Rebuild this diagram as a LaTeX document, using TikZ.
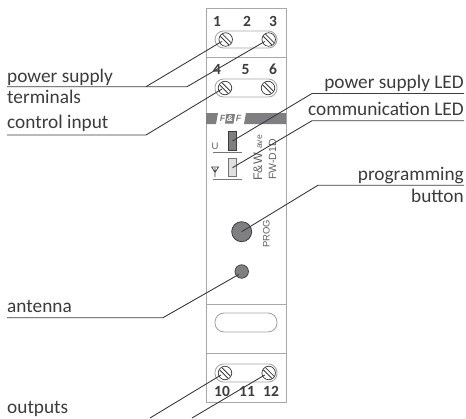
\documentclass[tikz,border=0pt]{standalone}
\usepackage{fontspec}
\setmainfont{Carlito}
\newfontfamily\lightsans{Liberation Sans}
\usetikzlibrary{calc}
\definecolor{ink}{HTML}{3C3C3E}
\definecolor{edge}{HTML}{A8A8A8}
\definecolor{band}{HTML}{7F7F82}
\tikzset{
  x=1pt,y=-1pt,
  lbl/.style={font=\fontsize{19.3}{19.3}\selectfont,text=ink,inner sep=0pt},
  num/.style={font=\bfseries\fontsize{15.5}{15.5}\selectfont,text=ink,inner sep=0pt},
  lead/.style={draw=ink,line width=0.9pt},
  part/.style={draw=edge,line width=0.9pt},
  screwhead/.style={circle,draw=ink,fill=white,line width=0.7pt,minimum size=13.5pt,inner sep=0pt},
  devtxt/.style={text=ink!80,inner sep=0pt,rotate=90,anchor=base west},
  rule/.style={draw=ink!70,line width=0.8pt},
}
\newcommand{\slotmark}[1]{\draw[ink,line width=0.8pt] ($(#1)+(-5.4,-3.2)$) -- ($(#1)+(3.2,5.4)$) ($(#1)+(-3.2,-5.4)$) -- ($(#1)+(5.4,3.2)$);}
\begin{document}
\begin{tikzpicture}
\useasboundingbox (0,0) rectangle (466,418);
\fill[white] (0,0) rectangle (466,418);
% body
\draw[part] (206,8) rectangle (286,402);
\draw[part] (206,57) -- (286,57) (206,304) -- (286,304) (206,353) -- (286,353);
\draw[part,rounded corners=8.5pt] (215,31) rectangle (277,48);
\draw[part,rounded corners=8.5pt] (215,79) rectangle (277,97);
\draw[part,rounded corners=8.5pt] (215,364) rectangle (277,382);
\draw[part,rounded corners=9pt,fill=white] (215,313) rectangle (277,332);
% band
\fill[band] (206,113) -- (218,113) -- (216,124) -- (206,124) -- cycle;
\fill[band] (246,113) -- (286,113) -- (286,124) -- (244,124) -- cycle;
\fill[band] (226.5,114) -- (235,114) -- (233.5,123.5) -- (225,123.5) -- cycle;
\node[font=\bfseries\itshape\lightsans\fontsize{9}{9}\selectfont,text=band,inner sep=0pt] (logoa) at (222.5,118.8) {F};
\node[font=\bfseries\itshape\lightsans\fontsize{8.5}{8.5}\selectfont,text=white,inner sep=0pt] (logob) at (230,118.8) {\&};
\node[font=\bfseries\itshape\lightsans\fontsize{9}{9}\selectfont,text=band,inner sep=0pt] (logoc) at (238.5,118.8) {F};
% screws
\node[screwhead] (s1) at (225.7,39.5) {}; \slotmark{s1}
\node[screwhead] (s3) at (268.7,39.5) {}; \slotmark{s3}
\node[screwhead] (s4) at (225,88) {}; \slotmark{s4}
\node[screwhead] (s6) at (268,88) {}; \slotmark{s6}
\node[screwhead] (s10) at (225,373) {}; \slotmark{s10}
\node[screwhead] (s12) at (268.7,373) {}; \slotmark{s12}
% numbers
\node[num] (n1) at (217,21.5) {1};
\node[num] (n2) at (247,21.5) {2};
\node[num] (n3) at (273,21.5) {3};
\node[num] (n4) at (217,69.5) {4};
\node[num] (n5) at (245.5,69.5) {5};
\node[num] (n6) at (273,69.5) {6};
\node[num] (n10) at (222,391) {10};
\node[num] (n11) at (247,391) {11};
\node[num] (n12) at (271,391) {12};
% LEDs
\node[draw=ink,fill=band,line width=0.7pt,minimum width=8pt,minimum height=19pt,inner sep=0pt] (pled) at (232.5,141) {};
\node[draw=ink!70,fill=black!12,line width=0.7pt,minimum width=8pt,minimum height=18pt,inner sep=0pt] (cled) at (232.5,167.7) {};
\draw[rule] (212.7,152.7) -- (241.7,152.7) (212.7,179.3) -- (241.7,179.3);
\node[font=\lightsans\fontsize{9.5}{9.5}\selectfont,text=ink!80,inner sep=0pt] (u) at (215,146) {U};
\draw[ink,line width=0.7pt] (215,177) -- (215,168) (211.7,167) -- (218.5,167) -- (215,172.5) -- cycle;
% device text
\node[devtxt,font=\lightsans\fontsize{12.5}{12.5}\selectfont] (fw) at (262,181) {F\&W};
\node[devtxt,font=\lightsans\fontsize{8.5}{8.5}\selectfont] (wave) at (262,149) {ave};
\node[devtxt,font=\lightsans\fontsize{10.5}{10.5}\selectfont] (model) at (276,180) {FW-D1D};
\node[devtxt,font=\lightsans\fontsize{9.5}{9.5}\selectfont] (prog) at (269.5,248) {PROG};
% button, antenna
\node[circle,draw=ink,fill=band,line width=0.8pt,minimum size=20pt,inner sep=0pt] (btn) at (241.7,231.7) {};
\node[circle,draw=ink,fill=band,line width=0.7pt,minimum size=13.5pt,inner sep=0pt] (ant) at (241.7,271.5) {};
% labels
\node[lbl,anchor=base west] (a1) at (7,82) {power supply};
\node[lbl,anchor=base west] (a2) at (7,103) {terminals};
\node[lbl,anchor=base west] (a3) at (7,128.5) {control input};
\node[lbl,anchor=base west] (a4) at (7,312) {antenna};
\node[lbl,anchor=base west] (a5) at (7,413.5) {outputs};
\node[lbl,anchor=base east] (b1) at (464,88) {power supply LED};
\node[lbl,anchor=base east] (b2) at (464,115) {communication LED};
\node[lbl,anchor=base east] (b3) at (464,180) {programming};
\node[lbl,anchor=base east] (b4) at (464,202) {button};
% leaders
\coordinate (psa) at (7,86.7);
\coordinate (psb) at (146,86.7);
\coordinate (psc) at (187,86.7);
\draw[lead] (psa) -- (psc) -- ($(s3.center)+(-4,2)$);
\draw[lead] (psb) -- ($(s1.center)+(-4,2)$);
\draw[lead] (7,135) -- (146,135) -- ($(s4.center)+(-3,1)$);
\draw[lead] (7,317.7) -- (163,317.7) -- ($(ant.center)+(-3,3)$);
\draw[lead] (464,93.5) -- (312,93.5) -- (pled.center);
\draw[lead] (464,120.7) -- (312,120.7) -- (cled.center);
\draw[lead] (464,185.2) -- (318,185.2) -- (btn.center);
\draw[lead] ($(s10.center)+(-4,2)$) -- (150,418);
\draw[lead] ($(s12.center)+(-4,2)$) -- (192,418);
\end{tikzpicture}
\end{document}
